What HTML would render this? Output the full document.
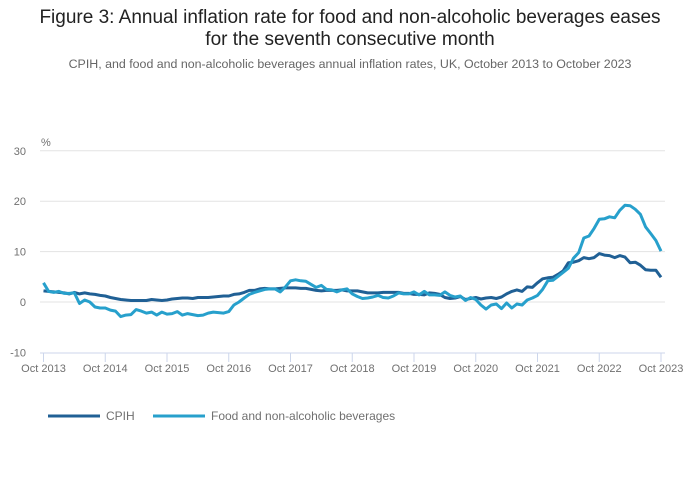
<!DOCTYPE html>
<html><head><meta charset="utf-8"><style>
body{margin:0;background:#fff;font-family:"Liberation Sans",sans-serif;}
#wrap{position:relative;width:700px;height:502px;overflow:hidden}
.title{position:absolute;left:0;width:700px;text-align:center;color:#222;font-size:19px;line-height:22px;top:7px}
.sub{position:absolute;left:0;width:700px;text-align:center;color:#666;font-size:12.4px;top:57px}
</style></head><body>
<div id="wrap">
<div class="title">Figure 3: Annual inflation rate for food and non-alcoholic beverages eases<br>for the seventh consecutive month</div>
<div class="sub">CPIH, and food and non-alcoholic beverages annual inflation rates, UK, October 2013 to October 2023</div>
<svg id="svg" width="700" height="502" style="position:absolute;left:0;top:0"></svg>
</div>
<script>
const yTicks=[30,20,10,0,-10];
const xTickLabels=["Oct 2013","Oct 2014","Oct 2015","Oct 2016","Oct 2017","Oct 2018","Oct 2019","Oct 2020","Oct 2021","Oct 2022","Oct 2023"];
const cpih=[2.2,2.1,2.0,
1.9,1.8,1.6,1.9,1.6,1.8,1.6,1.5,1.3,1.2,0.9,0.7,
0.5,0.4,0.3,0.3,0.3,0.3,0.5,0.4,0.3,0.4,0.6,0.7,
0.8,0.8,0.7,0.9,0.9,0.9,1.0,1.1,1.2,1.2,1.5,1.6,
1.9,2.3,2.3,2.6,2.7,2.6,2.6,2.7,2.8,2.8,2.8,2.7,
2.7,2.5,2.3,2.2,2.3,2.3,2.3,2.4,2.2,2.2,2.2,2.0,
1.8,1.8,1.8,1.9,1.9,1.9,1.9,1.7,1.7,1.5,1.5,1.4,
1.8,1.7,1.5,0.9,0.7,0.8,1.1,0.5,0.7,0.9,0.6,0.8,
0.9,0.7,1.0,1.6,2.1,2.4,2.1,3.0,2.9,3.8,4.6,4.8,
4.9,5.5,6.2,7.8,7.9,8.2,8.8,8.6,8.8,9.6,9.3,9.2,
8.8,9.2,8.9,7.8,7.9,7.3,6.4,6.3,6.3,4.9];
const food=[3.8,2.1,1.9,
2.1,1.7,1.7,1.8,-0.3,0.4,0,-1.0,-1.2,-1.2,-1.6,-1.8,
-2.9,-2.6,-2.5,-1.5,-1.8,-2.2,-2.0,-2.6,-2.0,-2.4,-2.3,-1.9,
-2.6,-2.3,-2.5,-2.7,-2.6,-2.2,-2.0,-2.1,-2.2,-1.9,-0.6,0.0,
0.8,1.5,1.9,2.2,2.5,2.6,2.6,2.0,3.0,4.2,4.4,4.2,
4.1,3.5,2.9,3.3,2.5,2.4,2.0,2.4,2.6,1.6,1.1,0.7,
0.8,1.0,1.3,0.9,0.8,1.2,1.8,1.6,1.6,2.0,1.4,2.1,
1.4,1.4,1.3,2.0,1.3,1.0,1.2,0.3,0.9,0.5,-0.6,-1.4,
-0.6,-0.4,-1.3,-0.2,-1.2,-0.4,-0.6,0.4,0.8,1.3,2.5,4.2,
4.3,5.1,5.9,6.7,8.7,9.8,12.7,13.1,14.6,16.4,16.5,16.9,
16.7,18.2,19.2,19.1,18.4,17.4,14.9,13.6,12.2,10.1];
const svg=document.getElementById('svg');const NS='http://www.w3.org/2000/svg';
function mk(t,a,p){const e=document.createElementNS(NS,t);for(const k in a)e.setAttribute(k,a[k]);(p||svg).appendChild(e);return e;}
const x0=43.5,x1=661,y=v=>302-v*5.04,x=i=>x0+(x1-x0)*i/120;
yTicks.forEach(v=>{
 if(v>-10){const l=mk('line',{x1:40,x2:665,y1:y(v),y2:y(v),stroke:'#e3e3e3','stroke-width':1});
 
 }
 const t=mk('text',{x:26,y:y(v)+4,'text-anchor':'end','font-size':11,fill:'#707070'});t.textContent=v;
 
 
});
const pct=mk('text',{x:41,y:146,'font-size':11,fill:'#707070'});pct.textContent='%';


const ax=mk('line',{x1:40,x2:665,y1:353,y2:353,stroke:'#ccd6eb','stroke-width':1});


xTickLabels.forEach((s,k)=>{const xx=x(k*12);
 const tk=mk('line',{x1:xx,x2:xx,y1:353,y2:362,stroke:'#ccd6eb'});
 
 
 const t=mk('text',{x:xx,y:372,'text-anchor':'middle','font-size':11,fill:'#707070'});t.textContent=s;
 
 
});
function line(d,c,n){const p=mk('path',{d:d.map((v,i)=>(i?'L':'M')+x(i).toFixed(1)+','+y(v).toFixed(1)).join(''),fill:'none',stroke:c,'stroke-width':3,'stroke-linejoin':'round'});
 
 }
line(cpih,'#206095','cpih-line');
line(food,'#27a0cc','food-line');
const lg=[['CPIH','#206095',48],['Food and non-alcoholic beverages','#27a0cc',153]];
lg.forEach(([s,c,lx])=>{const g=mk('g',{});
 
 
 mk('line',{x1:lx,x2:lx+52,y1:416,y2:416,stroke:c,'stroke-width':3},g);
 const t=mk('text',{x:lx+58,y:420,'font-size':12,fill:'#707070'},g);t.textContent=s;});
</script></body></html>
